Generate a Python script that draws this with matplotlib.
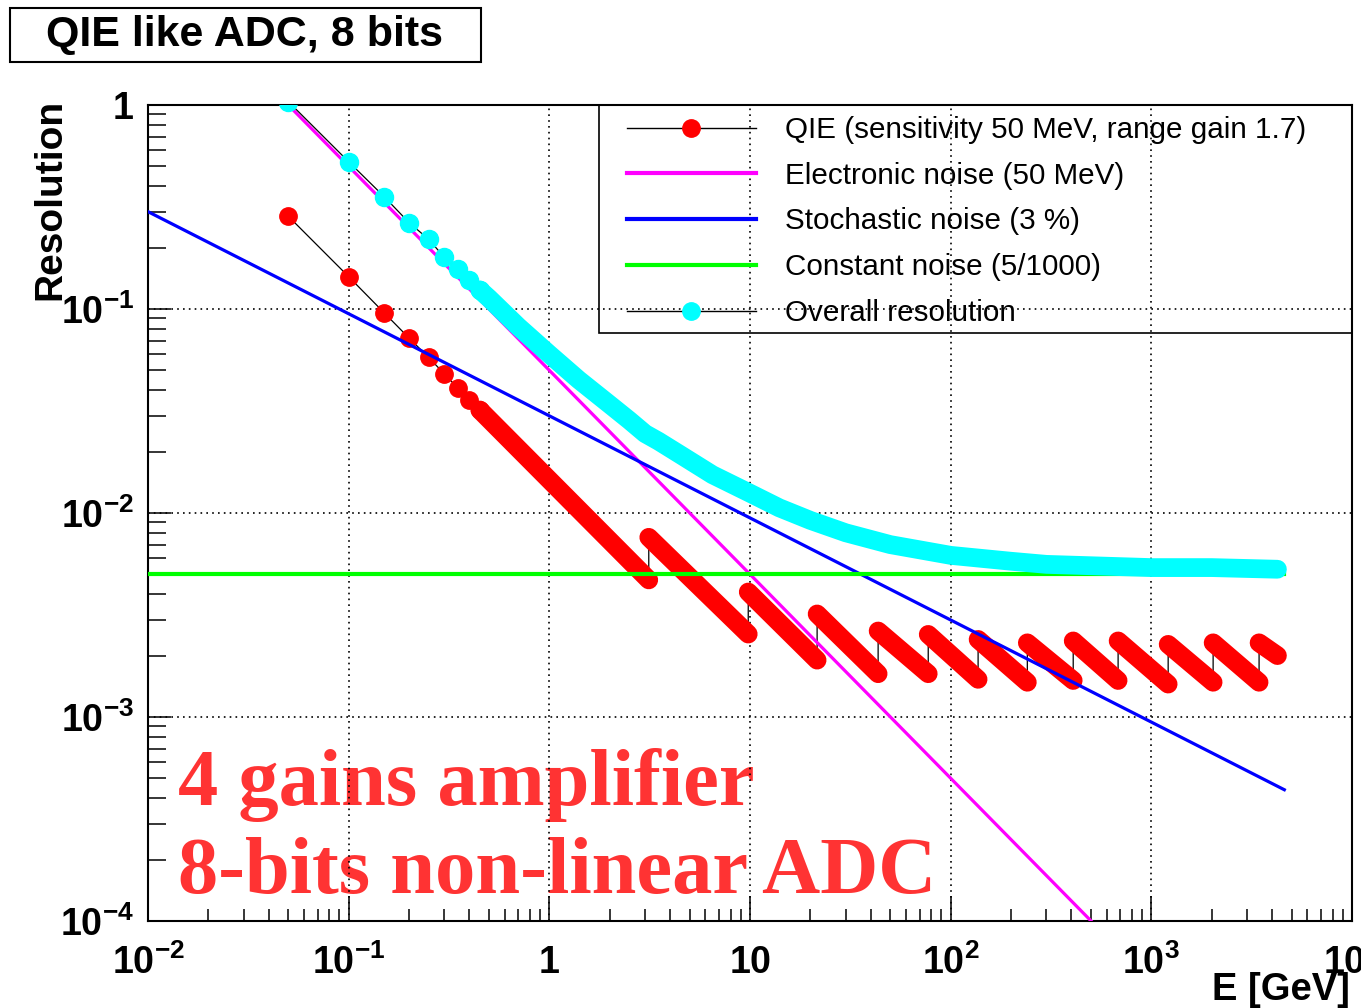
import matplotlib
matplotlib.use("Agg")
import matplotlib.pyplot as plt
from matplotlib.lines import Line2D
from matplotlib.patches import Rectangle
from matplotlib.ticker import NullFormatter

# Values. E in GeV, y is the resolution.

# straight lines: value at both ends of the energy range
line_energy = [0.01, 4600]
electronic_res = [5.0, 1.09e-5]
stochastic_res = [0.30, 0.00044]
constant_res = [0.005, 0.005]

# QIE points at low energy (the single red markers)
qie_energy = [0.05, 0.10, 0.15, 0.20, 0.25, 0.30, 0.35, 0.40, 0.45]
qie_res = [0.285, 0.144, 0.096, 0.072, 0.058, 0.048, 0.041, 0.036, 0.032]

# QIE saw teeth: top-left end and bottom-right end of every tooth
tooth_start_energy = [0.45, 3.13, 9.8, 21.6, 43.5, 77.3, 137, 241, 408, 683, 1213, 2032, 3443]
tooth_start_res = [0.032, 0.0076, 0.0041, 0.0032, 0.00264, 0.00254, 0.00240, 0.00231,
                   0.00236, 0.00236, 0.00227, 0.00231, 0.00231]
tooth_end_energy = [3.13, 9.8, 21.6, 43.5, 77.3, 137, 241, 408, 683, 1213, 2032, 3443, 4250]
tooth_end_res = [0.0047, 0.00255, 0.0019, 0.00163, 0.00163, 0.00153, 0.00148, 0.00151,
                 0.00151, 0.00145, 0.00148, 0.00148, 0.0020]

# overall resolution, single markers then the dense band
overall_energy = [0.05, 0.10, 0.15, 0.20, 0.25, 0.30, 0.35, 0.40, 0.45]
overall_res = [1.04, 0.527, 0.356, 0.265, 0.220, 0.179, 0.157, 0.139, 0.124]
band_energy = [0.45, 0.5, 0.7, 1.0, 1.4, 2.0, 2.5, 3.0, 3.5, 4.5, 6.5, 10, 14, 20, 30, 50,
               100, 200, 300, 1000, 2000, 4250]
band_res = [0.124, 0.113, 0.082, 0.060, 0.045, 0.034, 0.0285, 0.0245, 0.0225, 0.0193, 0.0154,
            0.0125, 0.0106, 0.0092, 0.0080, 0.0070, 0.0062, 0.0058, 0.0056, 0.0054, 0.0054, 0.0053]

legend_labels = ["QIE (sensitivity 50 MeV, range gain 1.7)",
                 "Electronic noise (50 MeV)",
                 "Stochastic noise (3 %)",
                 "Constant noise (5/1000)",
                 "Overall resolution"]

x_ticks = [1e-2, 1e-1, 1, 10, 1e2, 1e3, 1e4]
x_tick_labels = [r"$\mathbf{10^{-2}}$", r"$\mathbf{10^{-1}}$", r"$\mathbf{1}$", r"$\mathbf{10}$",
                 r"$\mathbf{10^{2}}$", r"$\mathbf{10^{3}}$", r"$\mathbf{10^{4}}$"]
y_ticks = [1e-4, 1e-3, 1e-2, 1e-1, 1]
y_tick_labels = [r"$\mathbf{10^{-4}}$", r"$\mathbf{10^{-3}}$", r"$\mathbf{10^{-2}}$",
                 r"$\mathbf{10^{-1}}$", r"$\mathbf{1}$"]

W, H = 1361, 1008

plt.rcParams["font.family"] = "Liberation Sans"
plt.rcParams["mathtext.fontset"] = "custom"
plt.rcParams["mathtext.rm"] = "Liberation Sans:bold"
plt.rcParams["mathtext.bf"] = "Liberation Sans:bold"
plt.rcParams["mathtext.it"] = "Liberation Sans:bold"

RED = (1, 0, 0)
MAGENTA = (1, 0, 1)
BLUE = (0, 0, 1)
GREEN = (0, 1, 0)
CYAN = (0, 1, 1)


def px(x0, y0, w, h):
    # pixel box (top-left origin) -> figure fraction box
    return [x0 / W, 1 - (y0 + h) / H, w / W, h / H]


fig = plt.figure(figsize=(W / 100, H / 100), dpi=100)
ax = fig.add_axes(px(148, 105, 1204, 816))
ax.set_xscale("log")
ax.set_yscale("log")
ax.set_xlim(1e-2, 1e4)
ax.set_ylim(1e-4, 1)

# QIE: thin black line through all points, red teeth on top
path_e = list(qie_energy)
path_r = list(qie_res)
for e0, r0, e1, r1 in zip(tooth_start_energy, tooth_start_res, tooth_end_energy, tooth_end_res):
    path_e += [e0, e1]
    path_r += [r0, r1]
ax.plot(path_e, path_r, color="black", lw=0.9, zorder=2)
for e0, r0, e1, r1 in zip(tooth_start_energy, tooth_start_res, tooth_end_energy, tooth_end_res):
    ax.plot([e0, e1], [r0, r1], color=RED, lw=13.5, solid_capstyle="round", zorder=3)
ax.plot(qie_energy, qie_res, "o", color=RED, ms=12.5, zorder=3)

# noise terms
ax.plot(line_energy, electronic_res, color=MAGENTA, lw=2.3, zorder=4)
ax.plot(line_energy, stochastic_res, color=BLUE, lw=2.3, zorder=4)
ax.plot(line_energy, constant_res, color=GREEN, lw=3, zorder=4)

# overall resolution
ax.plot(overall_energy + band_energy[1:], overall_res + band_res[1:], color="black", lw=0.9, zorder=5)
ax.plot(band_energy, band_res, color=CYAN, lw=13.5, solid_capstyle="round",
        solid_joinstyle="round", zorder=6)
ax.plot(overall_energy, overall_res, "o", color=CYAN, ms=13, zorder=6)

# axes look
ax.grid(True, which="major", color="black", linestyle=(0, (1, 2.5)), lw=1.2)
ax.set_xticks(x_ticks, x_tick_labels)
ax.set_yticks(y_ticks, y_tick_labels)
ax.xaxis.set_minor_formatter(NullFormatter())
ax.yaxis.set_minor_formatter(NullFormatter())
ax.tick_params(which="both", direction="in", top=False, right=False, width=1.1)
ax.tick_params(axis="x", which="major", length=18, labelsize=27, pad=17)
ax.tick_params(axis="x", which="minor", length=8.6)
ax.tick_params(axis="y", which="major", length=16.5, labelsize=27, pad=10)
ax.tick_params(axis="y", which="minor", length=13)
for s in ax.spines.values():
    s.set_linewidth(1.5)

ax.set_xlabel("E [GeV]", fontsize=27.5, fontweight="bold", loc="right")
ax.xaxis.set_label_coords(0.9983, -0.062)
ax.set_ylabel("Resolution", fontsize=28, fontweight="bold", loc="top")
ax.yaxis.set_label_coords(-0.066, 1.008)

# legend: frame drawn separately, entries placed inside it
handles = [
    Line2D([], [], color="black", lw=1, marker="o", ms=12.5, mfc=RED, mec=RED),
    Line2D([], [], color=MAGENTA, lw=3),
    Line2D([], [], color=BLUE, lw=3),
    Line2D([], [], color=GREEN, lw=3),
    Line2D([], [], color="black", lw=1, marker="o", ms=12.5, mfc=CYAN, mec=CYAN),
]
leg = ax.legend(handles, legend_labels, loc="upper left", bbox_to_anchor=(0.3887, 1.0),
                frameon=False, fontsize=21.3, handlelength=4.35, handletextpad=1.0,
                borderpad=0.37, borderaxespad=0, labelspacing=0.6, numpoints=1)
leg.set_zorder(10)
ax.add_patch(Rectangle((0.3746, 0.7206), 0.6254, 0.2794, transform=ax.transAxes,
                       fill=False, ec="black", lw=1.2, zorder=10, clip_on=False))

# title box
fig.add_artist(Rectangle((10 / W, 1 - 62 / H), 471 / W, 54 / H, transform=fig.transFigure,
                         fill=False, ec="black", lw=1.5))
fig.text(245 / W, 1 - 35 / H, "QIE like ADC, 8 bits", fontsize=31, fontweight="bold",
         ha="center", va="center")

# red note
for txt, y in [("4 gains amplifier", 805), ("8-bits non-linear ADC", 893)]:
    ax.text(178 / W, 1 - y / H, txt, transform=fig.transFigure, family="Liberation Serif",
            fontweight="bold", fontsize=58, color="#ff3333", ha="left", va="baseline", zorder=1)

fig.savefig("out.png", dpi=100)
